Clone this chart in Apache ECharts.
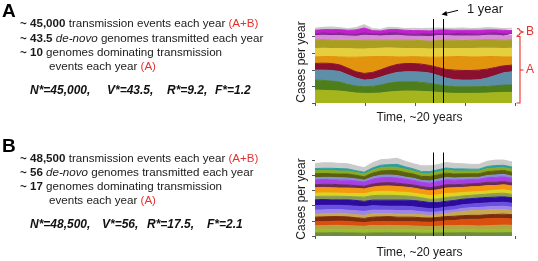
<!DOCTYPE html>
<html><head><meta charset="utf-8">
<script src="https://cdn.jsdelivr.net/npm/echarts@6/dist/echarts.min.js"></script>
<style>html,body{margin:0;padding:0;background:#fff}#c{width:538px;height:261px}</style>
</head><body><div id="c"></div>
<script>
// ---- time axis (years) ----
const times = [0,0.82,1.64,2.46,3.28,4.1,4.92,5.74,6.56,7.38,8.2,9.02,9.84,10.66,11.48,12.3,13.12,13.94,14.76,15.58,16.4,17.22,18.04,18.86,19.7];
const xTicks = [0,5,10,15,20];
const yTicksA = [0,1,2,3,4];
const yTicksB = [0,1,2,3,4,5];
const windowYears = [11.8, 12.8];

// ---- panel A layers (bottom to top), cases per year (arbitrary units) ----
const aLime    = [0.78,0.76,0.74,0.72,0.66,0.60,0.58,0.58,0.60,0.66,0.70,0.72,0.72,0.70,0.68,0.64,0.60,0.58,0.58,0.58,0.58,0.60,0.62,0.64,0.64];
const aGreen   = [0.60,0.60,0.58,0.54,0.46,0.42,0.40,0.42,0.48,0.54,0.56,0.56,0.56,0.54,0.50,0.46,0.42,0.40,0.40,0.40,0.40,0.40,0.42,0.44,0.44];
const aBlue    = [0.60,0.62,0.64,0.64,0.58,0.48,0.40,0.42,0.48,0.52,0.58,0.60,0.60,0.62,0.62,0.56,0.48,0.42,0.40,0.40,0.42,0.50,0.62,0.74,0.80];
const aMaroon  = [0.40,0.42,0.42,0.40,0.40,0.38,0.40,0.42,0.44,0.46,0.48,0.50,0.50,0.48,0.46,0.48,0.52,0.58,0.58,0.58,0.58,0.54,0.48,0.42,0.40];
const aOrange  = [0.40,0.40,0.42,0.48,0.66,0.88,1.00,0.96,0.80,0.62,0.46,0.40,0.42,0.44,0.50,0.62,0.76,0.82,0.84,0.82,0.80,0.76,0.66,0.54,0.50];
const aYellow  = [0.50,0.50,0.48,0.50,0.52,0.50,0.48,0.48,0.50,0.52,0.52,0.50,0.48,0.50,0.50,0.52,0.50,0.48,0.48,0.50,0.52,0.50,0.50,0.50,0.52];
const aOlive   = [0.50,0.52,0.50,0.48,0.48,0.50,0.52,0.50,0.48,0.46,0.48,0.50,0.50,0.48,0.46,0.48,0.50,0.50,0.48,0.50,0.50,0.52,0.50,0.50,0.50];
const aPink    = [0.28,0.26,0.28,0.30,0.28,0.26,0.30,0.28,0.26,0.28,0.30,0.26,0.24,0.26,0.28,0.30,0.28,0.26,0.28,0.26,0.24,0.26,0.28,0.26,0.28];
const aPurple  = [0.10,0.14,0.12,0.16,0.10,0.12,0.14,0.10,0.12,0.16,0.14,0.12,0.10,0.14,0.16,0.12,0.10,0.14,0.16,0.12,0.10,0.12,0.14,0.12,0.10];
const aMagenta = [0.22,0.20,0.24,0.20,0.24,0.26,0.30,0.20,0.18,0.20,0.20,0.22,0.24,0.20,0.18,0.22,0.24,0.20,0.18,0.22,0.24,0.20,0.18,0.22,0.20];
const aGray    = [0.12,0.14,0.16,0.12,0.10,0.14,0.20,0.12,0.10,0.14,0.12,0.10,0.14,0.12,0.16,0.12,0.10,0.12,0.14,0.10,0.12,0.14,0.12,0.10,0.12];

// ---- panel B layers (bottom to top) ----
const b01 = [0.20,0.20,0.22,0.22,0.20,0.20,0.18,0.20,0.20,0.22,0.20,0.20,0.20,0.18,0.18,0.20,0.20,0.20,0.22,0.22,0.20,0.20,0.20,0.22,0.22];
const b02 = [0.22,0.22,0.20,0.20,0.22,0.22,0.22,0.24,0.22,0.20,0.22,0.22,0.22,0.22,0.20,0.20,0.22,0.22,0.22,0.20,0.20,0.22,0.22,0.22,0.22];
const b03 = [0.26,0.26,0.28,0.28,0.26,0.24,0.24,0.26,0.26,0.28,0.26,0.26,0.24,0.24,0.24,0.24,0.26,0.26,0.26,0.26,0.26,0.26,0.28,0.28,0.26];
const b04 = [0.26,0.26,0.26,0.28,0.28,0.26,0.24,0.24,0.26,0.26,0.26,0.26,0.28,0.28,0.28,0.30,0.32,0.34,0.38,0.42,0.44,0.46,0.46,0.44,0.42];
const b05 = [0.30,0.32,0.32,0.30,0.30,0.28,0.28,0.30,0.32,0.32,0.30,0.30,0.30,0.28,0.28,0.28,0.28,0.28,0.26,0.26,0.26,0.26,0.26,0.28,0.28];
const b06 = [0.20,0.20,0.20,0.22,0.20,0.20,0.20,0.22,0.22,0.20,0.20,0.20,0.20,0.20,0.18,0.18,0.20,0.24,0.28,0.30,0.32,0.32,0.32,0.30,0.28];
const b07 = [0.26,0.26,0.26,0.24,0.24,0.26,0.26,0.24,0.22,0.22,0.24,0.24,0.22,0.20,0.20,0.18,0.18,0.18,0.20,0.20,0.20,0.20,0.20,0.22,0.22];
const b08 = [0.30,0.30,0.28,0.28,0.30,0.30,0.30,0.30,0.28,0.26,0.28,0.28,0.26,0.26,0.24,0.24,0.24,0.24,0.24,0.24,0.26,0.26,0.26,0.26,0.26];
const b09 = [0.38,0.38,0.36,0.36,0.38,0.38,0.36,0.36,0.38,0.40,0.40,0.40,0.42,0.42,0.40,0.38,0.38,0.38,0.36,0.36,0.36,0.36,0.36,0.36,0.36];
const b10 = [0.22,0.22,0.24,0.24,0.22,0.24,0.28,0.30,0.32,0.32,0.30,0.28,0.26,0.24,0.22,0.24,0.26,0.24,0.22,0.22,0.22,0.22,0.24,0.24,0.22];
const b11 = [0.22,0.22,0.22,0.20,0.20,0.22,0.22,0.24,0.26,0.26,0.24,0.24,0.22,0.22,0.24,0.26,0.26,0.24,0.22,0.22,0.20,0.20,0.22,0.22,0.22];
const b12 = [0.36,0.36,0.34,0.34,0.36,0.34,0.32,0.32,0.34,0.36,0.36,0.34,0.34,0.32,0.32,0.34,0.36,0.36,0.34,0.34,0.34,0.36,0.30,0.34,0.34];
const b13 = [0.20,0.20,0.22,0.22,0.20,0.18,0.18,0.20,0.22,0.22,0.22,0.20,0.20,0.20,0.20,0.22,0.22,0.20,0.20,0.20,0.20,0.22,0.22,0.20,0.20];
const b14 = [0.32,0.32,0.30,0.30,0.32,0.30,0.28,0.32,0.34,0.34,0.34,0.32,0.30,0.28,0.30,0.32,0.32,0.30,0.30,0.28,0.28,0.30,0.32,0.32,0.30];
const b15 = [0.14,0.14,0.16,0.16,0.14,0.14,0.12,0.14,0.16,0.16,0.16,0.14,0.14,0.12,0.14,0.16,0.16,0.14,0.14,0.14,0.12,0.14,0.16,0.16,0.14];
const b16 = [0.26,0.26,0.24,0.24,0.26,0.24,0.22,0.26,0.28,0.30,0.32,0.30,0.28,0.26,0.30,0.28,0.28,0.26,0.26,0.24,0.24,0.26,0.26,0.26,0.26];
const b17 = [0.20,0.20,0.20,0.20,0.20,0.18,0.18,0.20,0.22,0.22,0.22,0.22,0.20,0.20,0.20,0.20,0.20,0.20,0.18,0.18,0.18,0.20,0.20,0.20,0.20];
const b18 = [0.14,0.14,0.16,0.16,0.14,0.12,0.12,0.14,0.16,0.16,0.20,0.16,0.14,0.12,0.12,0.14,0.14,0.14,0.14,0.12,0.12,0.14,0.16,0.14,0.14];
const b19 = [0.34,0.36,0.36,0.34,0.34,0.32,0.30,0.34,0.36,0.36,0.40,0.36,0.34,0.38,0.38,0.34,0.36,0.36,0.34,0.32,0.32,0.34,0.36,0.34,0.34];

const layersA = [aLime,aGreen,aBlue,aMaroon,aOrange,aYellow,aOlive,aPink,aPurple,aMagenta,aGray];
const layersB = [b01,b02,b03,b04,b05,b06,b07,b08,b09,b10,b11,b12,b13,b14,b15,b16,b17,b18,b19];

// ---- styles ----
const colorsA = ['#a6b51c','#4e7e1c','#5e8fa8','#8b0f2e','#e2940f','#e6cf3c','#aa9e22','#d78ad8','#80298f','#c31fd0','#c9c9c9'];
const colorsB = ['#6d8c3c','#9dbb2c','#b0a640','#dc4e0e','#7b2c0c','#c9a74f','#9c86e6','#6b4fe0','#2b0c9e','#8a9c50','#dcd41e','#f59a10','#6a2c56','#a640e4','#8a8ed6','#5c600e','#8aaa26','#2a9e9e','#cacaca'];
const FONT = "'Liberation Sans', Arial, sans-serif";
const RED = '#e8302e';

function makeSeries(layers, colors, idx, stackName) {
  return layers.map((vals, k) => {
    const s = {
      type: 'line', stack: stackName, xAxisIndex: idx, yAxisIndex: idx,
      // value first so the stack is applied on the y dimension
      data: times.map((t, j) => [vals[j], t]),
      encode: { x: 1, y: 0 },
      symbol: 'none', silent: true, animation: false,
      lineStyle: { width: 1, color: colors[k] },
      areaStyle: { color: colors[k], opacity: 1 }
    };
    if (k === layers.length - 1) {
      s.markLine = {
        silent: true, symbol: 'none', animation: false,
        label: { show: false },
        lineStyle: { color: '#000', width: 1, type: 'solid' },
        data: windowYears.map(v => ({ xAxis: v }))
      };
    }
    return s;
  });
}

function xAx(idx) {
  return { type: 'value', gridIndex: idx, min: 0, max: 20, interval: 5,
    axisLine: { show: false }, splitLine: { show: false },
    axisTick: { show: true, length: 3, lineStyle: { color: '#555' } },
    axisLabel: { show: false } };
}
function yAx(idx, max, ticks) {
  return { type: 'value', gridIndex: idx, min: 0, max: max,
    axisLine: { show: false }, splitLine: { show: false },
    axisTick: { show: true, length: 3, customValues: ticks, lineStyle: { color: '#555' } },
    axisLabel: { show: false, customValues: ticks } };
}

function txt(x, y, text, rich, extra) {
  return Object.assign({ type: 'text', x: x, y: y, silent: true,
    style: Object.assign({ text: text, font: '11.6px ' + FONT, fill: '#1a1a1a',
      textAlign: 'left', textVerticalAlign: 'middle', rich: rich || {} }, extra || {}) });
}
const rich = {
  b: { fontWeight: 'bold', fontSize: 11.6, fontFamily: FONT, fill: '#1a1a1a' },
  i: { fontStyle: 'italic', fontSize: 11.6, fontFamily: FONT, fill: '#1a1a1a' },
  r: { fontSize: 11.6, fontFamily: FONT, fill: RED }
};
const biFont = 'italic bold 12px ' + FONT;

function panelText(y0, letter, n1, n2, n3, stats) {
  const els = [];
  els.push(txt(2, y0 - 12, letter, null, { font: 'bold 19px ' + FONT, fill: '#000' }));
  els.push(txt(20, y0, '{b|~ ' + n1 + '} transmission events each year {r|(A+B)}', rich));
  els.push(txt(20, y0 + 14.4, '{b|~ ' + n2 + '} {i|de-novo} genomes transmitted each year', rich));
  els.push(txt(20, y0 + 28.6, '{b|~ ' + n3 + '} genomes dominating transmission', rich));
  els.push(txt(49, y0 + 42.6, 'events each year {r|(A)}', rich));
  stats.forEach(s => els.push(txt(s[0], s[1], s[2], null, { font: biFont, fill: '#111' })));
  return els;
}

const graphics = [].concat(
  panelText(24, 'A', '45,000', '43.5', '10', [
    [30, 90.7, 'N*=45,000,'], [107, 90.7, 'V*=43.5,'], [167, 90.7, 'R*=9.2,'], [215, 90.7, 'F*=1.2']
  ]),
  panelText(158.3, 'B', '48,500', '56', '17', [
    [30, 225, 'N*=48,500,'], [102, 225, 'V*=56,'], [147, 225, 'R*=17.5,'], [207, 225, 'F*=2.1']
  ]),
  [
    { type: 'text', x: 302, y: 62, rotation: Math.PI / 2, silent: true,
      style: { text: 'Cases per year', font: '12px ' + FONT, fill: '#1a1a1a', textAlign: 'center', textVerticalAlign: 'middle' } },
    { type: 'text', x: 302, y: 199, rotation: Math.PI / 2, silent: true,
      style: { text: 'Cases per year', font: '12px ' + FONT, fill: '#1a1a1a', textAlign: 'center', textVerticalAlign: 'middle' } },
    { type: 'text', x: 419.5, y: 118, silent: true,
      style: { text: 'Time, ~20 years', font: '12px ' + FONT, fill: '#1a1a1a', textAlign: 'center', textVerticalAlign: 'middle' } },
    { type: 'text', x: 419.5, y: 253, silent: true,
      style: { text: 'Time, ~20 years', font: '12px ' + FONT, fill: '#1a1a1a', textAlign: 'center', textVerticalAlign: 'middle' } },
    { type: 'text', x: 467, y: 9, silent: true,
      style: { text: '1 year', font: '13px ' + FONT, fill: '#1a1a1a', textAlign: 'left', textVerticalAlign: 'middle' } },
    { type: 'line', silent: true, shape: { x1: 458, y1: 10.3, x2: 446, y2: 13.3 }, style: { stroke: '#000', lineWidth: 1 } },
    { type: 'polygon', silent: true, shape: { points: [[441.5, 14.5], [447.5, 15.9], [446.3, 10.9]] }, style: { fill: '#000' } },
    { type: 'polyline', silent: true, shape: { points: [[517, 28.5], [519.5, 29.3], [520, 30.8], [523, 32], [520, 33.2], [519.5, 34.7], [517, 35.5]] },
      style: { stroke: RED, lineWidth: 1.1, fill: null } },
    { type: 'polyline', silent: true, shape: { points: [[516.5, 36.5], [520, 36.5], [520, 103], [516.5, 103]] },
      style: { stroke: RED, lineWidth: 1.1, fill: null } },
    { type: 'line', silent: true, shape: { x1: 520, y1: 70, x2: 523.5, y2: 70 }, style: { stroke: RED, lineWidth: 1.1 } },
    { type: 'text', x: 526, y: 31.5, silent: true,
      style: { text: 'B', font: '12px ' + FONT, fill: RED, textAlign: 'left', textVerticalAlign: 'middle' } },
    { type: 'text', x: 526, y: 70, silent: true,
      style: { text: 'A', font: '12px ' + FONT, fill: RED, textAlign: 'left', textVerticalAlign: 'middle' } }
  ]
);

const chart = echarts.init(document.getElementById('c'), null, { renderer: 'canvas' });
chart.setOption({
  animation: false,
  backgroundColor: '#fff',
  grid: [
    { left: 315, top: 19, width: 200, height: 84 },
    { left: 315, top: 152.5, width: 200, height: 83.5 }
  ],
  xAxis: [xAx(0), xAx(1)],
  yAxis: [yAx(0, 5.06, yTicksA), yAx(1, 5.5, yTicksB)],
  series: makeSeries(layersA, colorsA, 0, 'A').concat(makeSeries(layersB, colorsB, 1, 'B')),
  graphic: graphics
});
</script>
</body></html>
